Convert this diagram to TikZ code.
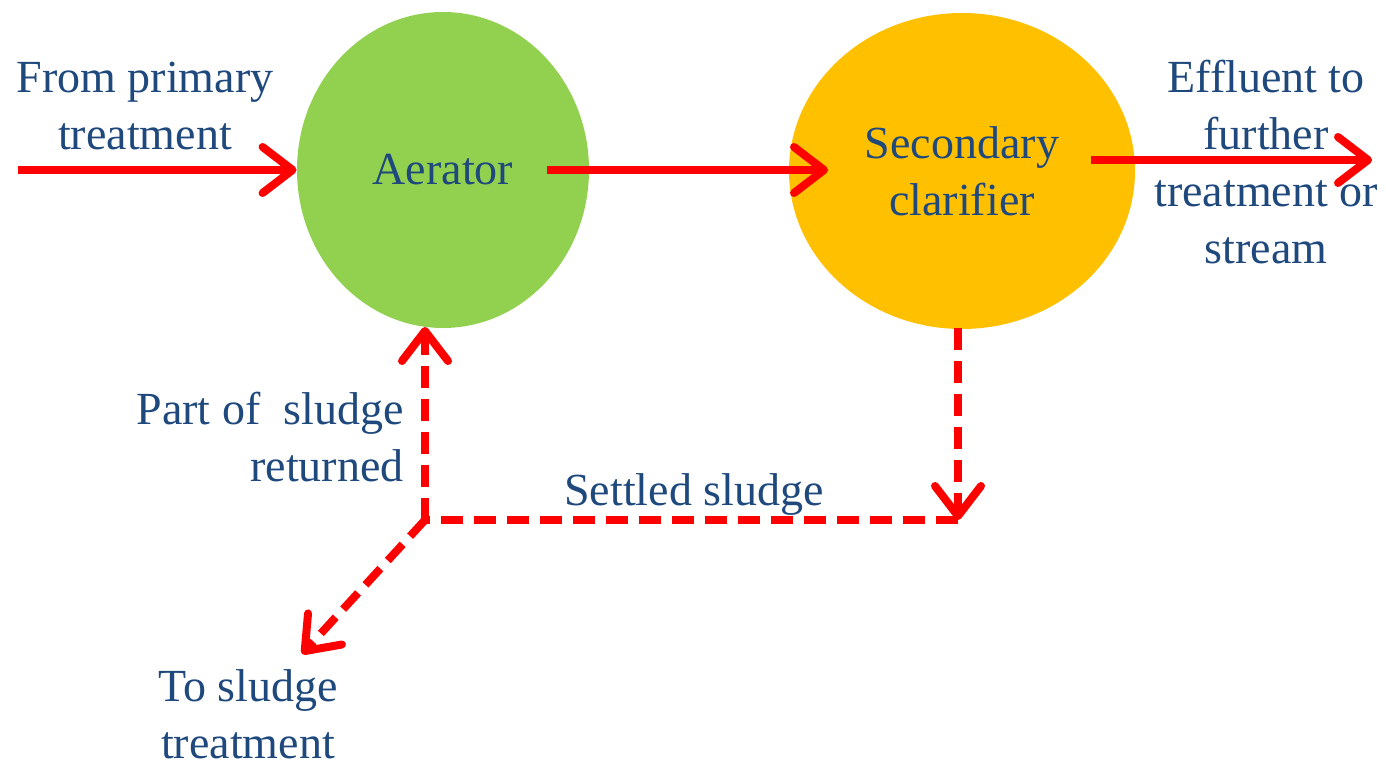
\documentclass[tikz,border=0pt]{standalone}
\usepackage{fontspec}
\setmainfont{Liberation Serif}
\usetikzlibrary{arrows.meta,shapes.geometric}
\definecolor{txt}{HTML}{1F497D}
\definecolor{aergreen}{HTML}{92D050}
\definecolor{clayellow}{HTML}{FFC000}
\definecolor{flowred}{HTML}{FF0000}
\begin{document}
\begin{tikzpicture}[x=0.5pt,y=-0.5pt,
  lbl/.style={text=txt,font=\fontsize{23}{28.5}\selectfont,align=center,inner sep=0pt},
  tank/.style={ellipse,inner sep=0pt,draw=none,text=txt,font=\fontsize{23}{28.5}\selectfont,align=center},
  barb/.style={-{Straight Barb[length=15pt,width=23pt,line cap=round,line join=round]}},
  flow/.style={draw=flowred,line width=4pt,barb},
  sludge/.style={draw=flowred,line width=4pt,dash pattern=on 11pt off 5.5pt},
  sludgearrow/.style={sludge,barb}
]
\useasboundingbox (0,0) rectangle (1386,769);

% tanks
\node[tank,fill=aergreen,minimum width=146pt,minimum height=158pt] (aer) at (443,170) {Aerator};
\node[tank,fill=clayellow,minimum width=173pt,minimum height=158pt] (cla) at (962,171) {Secondary\\clarifier};

% connector end points
\coordinate (inflow) at (18,170);
\coordinate (aerout) at (547,170);
\coordinate (clain) at (828,170);
\coordinate (claout) at (1091,160);
\coordinate (effluent) at (1372,160);
\coordinate (claret) at (958,328);
\coordinate (settle) at (958,520);
\coordinate (junction) at (425,520);
\coordinate (aerret) at (425,327);
\coordinate (waste) at (302,654);

% solid flows
\draw[flow] (inflow) -- (aer.west);
\draw[flow] (aerout) -- (clain);
\draw[flow] (claout) -- (effluent);

% sludge lines
\draw[sludgearrow] (claret) -- (settle);
\draw[sludge] (settle) -- (junction);
\draw[sludgearrow] (junction) -- (aerret);
\draw[sludgearrow] (junction) -- (waste);

% labels
\node[lbl] (lprim) at (145,106) {From primary\\treatment};
\node[lbl] (leff) at (1266,162) {Effluent to\\further\\treatment or\\stream};
\node[lbl,align=right,anchor=east] (lret) at (404,437) {Part of~ sludge\\returned};
\node[lbl] (lset) at (694,495) {Settled sludge};
\node[lbl] (lto) at (248,714) {To sludge\\treatment};
\end{tikzpicture}
\end{document}
